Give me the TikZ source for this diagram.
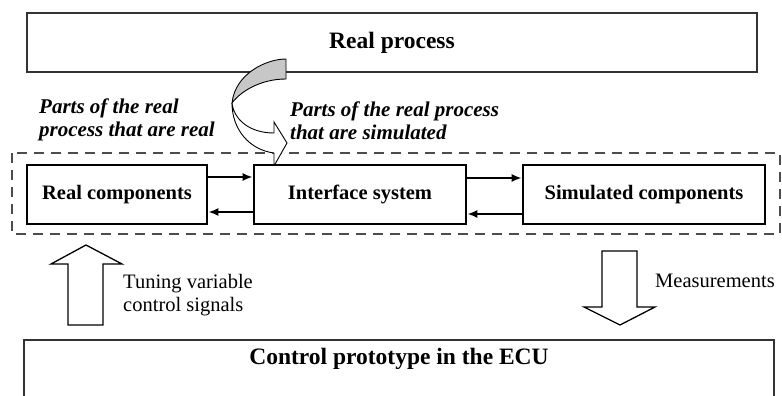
\documentclass[tikz,border=0pt]{standalone}
\usepackage{fontspec}
\setmainfont{Liberation Serif}
\usetikzlibrary{arrows.meta}
\begin{document}
\begin{tikzpicture}[x=1pt,y=-1pt,
  txt/.style={font=\fontsize{20.5}{23}\selectfont},
  bigbox/.style={draw=black!80, line width=2.4pt, fill=white, inner sep=0pt,
    font=\fontsize{23.5}{27}\selectfont\bfseries},
  compbox/.style={draw=black, line width=2.6pt, fill=white, inner sep=0pt,
    minimum height=59pt, font=\fontsize{20.5}{23}\selectfont\bfseries},
  frame/.style={draw=black!70, line width=2.2pt, dash pattern=on 10pt off 7pt},
  conn/.style={draw=black, line width=2pt, -{Latex[length=10pt,width=8pt]}},
  blockarrow/.style={draw=black, line width=1.3pt, fill=white, line join=miter},
  curved/.style={draw=black, line width=0.9pt},
  note/.style={font=\fontsize{21}{23}\selectfont\bfseries\itshape, inner sep=0pt, align=left},
  plain/.style={txt, inner sep=0pt, align=left}
]
\clip (0,0) rectangle (782,396);
\fill[white] (0,0) rectangle (782,396);

% top box
\node[bigbox, minimum width=730pt, minimum height=59pt] (proc) at (392,42.5) {Real process};

% bottom box, extends past the lower edge
\node[bigbox, minimum width=750pt, anchor=north, inner ysep=8pt, text height=16.5pt, text depth=52pt]
  (ecu) at (399,339) {Control prototype in the ECU};

% dashed frame around the test bench
\draw[frame] (12,153) rectangle (780,234);

% curved arrow from the real process into the bench
\filldraw[curved, fill=black!22]
  (286,59) .. controls (266,59) and (235,74) .. (232,103)
  .. controls (240,92) and (260,79) .. (286,79) -- cycle;
\filldraw[curved, fill=white]
  (232,103) .. controls (232,130) and (250,150) .. (274,153)
  -- (274,166) -- (287,143) -- (274,122) -- (274,133)
  .. controls (250,133) and (234,120) .. (232,103) -- cycle;

% components
\node[compbox, minimum width=180pt] (rc) at (117,194.5) {Real components};
\node[compbox, minimum width=212pt] (ifs) at (360,194.5) {Interface system};
\node[compbox, minimum width=242pt] (sc) at (644,194.5) {Simulated components};

\draw[conn] (rc.east |- 0,177) -- (ifs.west |- 0,177);
\draw[conn] (ifs.west |- 0,212) -- (rc.east |- 0,212);
\draw[conn] (ifs.east |- 0,178) -- (sc.west |- 0,178);
\draw[conn] (sc.west |- 0,214) -- (ifs.east |- 0,214);

% italic captions (base anchor sits on the last line)
\node[note, anchor=base west] (lreal) at (39,136) {Parts of the real\\process that are real};
\node[note, anchor=base west] (lsim) at (290,139) {Parts of the real process\\that are simulated};

% signal arrows
\draw[blockarrow] (86,245) -- (122,264) -- (103,264) -- (103,325) -- (68,325) -- (68,264) -- (51,264) -- cycle;
\draw[blockarrow] (602,251) -- (637,251) -- (637,307) -- (655,307) -- (620,325) -- (584,307) -- (602,307) -- cycle;

\node[plain, anchor=west] (tune) at (123,295) {Tuning variable\\control signals};
\node[plain, anchor=west] (meas) at (655,281) {Measurements};
\end{tikzpicture}
\end{document}
